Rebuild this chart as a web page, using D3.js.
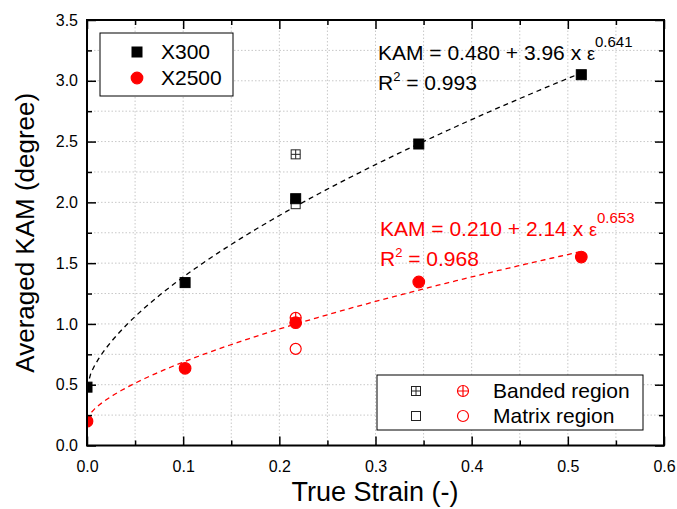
<!DOCTYPE html>
<html>
<head>
<meta charset="utf-8">
<script src="https://cdn.jsdelivr.net/npm/d3@7"></script>
<style>
  body { margin: 0; background: #fff; }
  svg text { font-family: "Liberation Sans", Arial, sans-serif; }
</style>
</head>
<body>
<div class="chart-container"></div>
<script>
// averaged KAM vs true strain
const strainX300 = [0, 0.102, 0.217, 0.345, 0.514];
const kamX300 = [0.48, 1.34, 2.03, 2.48, 3.05];
const strainX2500 = [0, 0.102, 0.217, 0.345, 0.514];
const kamX2500 = [0.20, 0.635, 1.01, 1.345, 1.55];
// banded / matrix region at 0.217 strain
const regionStrain = [0.217, 0.217];
const regionNames = ["Banded region", "Matrix region"];
const regionX300 = [2.395, 1.985];
const regionX2500 = [1.05, 0.795];
// fit parameters shown in the plot: a + b * eps^n
const fitX300 = [0.480, 3.96, 0.641];
const fitX2500 = [0.210, 2.14, 0.653];
const fitStrain = d3.range(0, 0.5141, 0.004);
const xTicks = [0, 0.1, 0.2, 0.3, 0.4, 0.5, 0.6];
const yTicks = [0, 0.5, 1.0, 1.5, 2.0, 2.5, 3.0, 3.5];

const W = 677, H = 509;
const pLeft = 87, pRight = 664, pTop = 20, pBottom = 445.5;

const svg = d3.select(".chart-container")
    .append("svg")
    .attr("width", W)
    .attr("height", H);

svg.append("clipPath").attr("id", "plot-clip")
    .append("rect")
    .attr("x", pLeft).attr("y", pTop)
    .attr("width", pRight - pLeft).attr("height", pBottom - pTop);

const x = d3.scaleLinear().domain([0, 0.6]).range([pLeft, pRight]);
const y = d3.scaleLinear().domain([0, 3.5]).range([pBottom, pTop]);

// grid at major and minor positions
const xGrid = d3.range(0.05, 0.6, 0.05);
const yGrid = d3.range(0.25, 3.5, 0.25);
svg.append("g").selectAll("line").data(xGrid).join("line")
    .attr("x1", d => x(d)).attr("x2", d => x(d))
    .attr("y1", pTop).attr("y2", pBottom)
    .attr("stroke", "#c8c8c8").attr("stroke-dasharray", "1.5,2");
svg.append("g").selectAll("line").data(yGrid).join("line")
    .attr("y1", d => y(d)).attr("y2", d => y(d))
    .attr("x1", pLeft).attr("x2", pRight)
    .attr("stroke", "#c8c8c8").attr("stroke-dasharray", "1.5,2");

// fit curves
const line = d3.line().x(d => x(d[0])).y(d => y(d[1]));
function fitLine(p, color) {
    const pts = fitStrain.map(e => [e, p[0] + p[1] * Math.pow(e, p[2])]);
    svg.append("path").datum(pts)
        .attr("d", line)
        .attr("fill", "none").attr("stroke", color)
        .attr("stroke-width", 1.3).attr("stroke-dasharray", "5,4");
}
fitLine(fitX300, "#000");
fitLine(fitX2500, "#ff0000");

// markers
function square(g, cx, cy, s, fill, stroke, cross) {
    g.append("rect").attr("x", cx - s / 2).attr("y", cy - s / 2)
        .attr("width", s).attr("height", s)
        .attr("fill", fill).attr("stroke", stroke).attr("stroke-width", 1);
    if (cross) {
        g.append("path")
            .attr("d", `M${cx - s / 2},${cy}H${cx + s / 2}M${cx},${cy - s / 2}V${cy + s / 2}`)
            .attr("stroke", stroke).attr("stroke-width", 1);
    }
}
function circle(g, cx, cy, r, fill, stroke, cross) {
    g.append("circle").attr("cx", cx).attr("cy", cy).attr("r", r)
        .attr("fill", fill).attr("stroke", stroke).attr("stroke-width", 1.2);
    if (cross) {
        g.append("path")
            .attr("d", `M${cx - r},${cy}H${cx + r}M${cx},${cy - r}V${cy + r}`)
            .attr("stroke", stroke).attr("stroke-width", 1.2);
    }
}

const marks = svg.append("g").attr("clip-path", "url(#plot-clip)");
regionStrain.forEach((s, i) => {
    square(marks, x(s), y(regionX300[i]), 9, "#fff", "#222", i === 0);
    circle(marks, x(s), y(regionX2500[i]), 5.5, "#fff", "#ff0000", i === 0);
});
strainX300.forEach((s, i) => square(marks, x(s), y(kamX300[i]), 10, "#000", "#000", false));
strainX2500.forEach((s, i) => circle(marks, x(s), y(kamX2500[i]), 5.8, "#ff0000", "#ff0000", false));

// axes, ticks pointing inward on all four sides
const minorX = d3.range(0.05, 0.6, 0.1);
const minorY = d3.range(0.25, 3.5, 0.5);
function tickAxis(axisFn, scale, major, minor, pos, fmt) {
    const g = svg.append("g").attr("transform", pos);
    g.call(axisFn(scale).tickValues(major).tickSize(-9).tickPadding(15).tickFormat(fmt));
    g.append("g").call(axisFn(scale).tickValues(minor).tickSize(-5).tickFormat(""));
    g.selectAll(".domain").remove();
    g.selectAll("line").attr("stroke", "#000").attr("stroke-width", 1.5);
    g.selectAll("text").attr("fill", "#000").style("font-size", "16px");
    return g;
}
tickAxis(d3.axisBottom, x, xTicks, minorX, `translate(0,${pBottom})`, d3.format(".1f"));
tickAxis(d3.axisTop, x, xTicks, minorX, `translate(0,${pTop})`, () => "");
tickAxis(d3.axisLeft, y, yTicks, minorY, `translate(${pLeft},0)`, d3.format(".1f"))
    .selectAll("text").attr("x", -9);
tickAxis(d3.axisRight, y, yTicks, minorY, `translate(${pRight},0)`, () => "");

svg.append("rect")
    .attr("x", pLeft).attr("y", pTop)
    .attr("width", pRight - pLeft).attr("height", pBottom - pTop)
    .attr("fill", "none").attr("stroke", "#000").attr("stroke-width", 2);

// equations
function equation(tx, ty, a, b, n, r2, color) {
    const t = svg.append("text").attr("x", tx).attr("y", ty)
        .attr("fill", color).style("font-size", "21px");
    t.append("tspan").text(`KAM = ${a} + ${b} x `);
    t.append("tspan").text("ε").style("font-size", "18px");
    t.append("tspan").attr("dy", -13).style("font-size", "15px").text(n);
    const r = svg.append("text").attr("x", tx).attr("y", ty + 30)
        .attr("fill", color).style("font-size", "21px");
    r.append("tspan").text("R");
    r.append("tspan").attr("dy", -9).style("font-size", "13px").text("2");
    r.append("tspan").attr("dy", 9).text(" = " + r2);
}
equation(378, 60, "0.480", "3.96", "0.641", "0.993", "#000");
equation(380, 236, "0.210", "2.14", "0.653", "0.968", "#ff0000");

// legend 1
const lg1 = svg.append("g");
lg1.append("rect").attr("x", 100).attr("y", 33).attr("width", 133).attr("height", 63)
    .attr("fill", "#fff").attr("stroke", "#000").attr("stroke-width", 1);
square(lg1, 137, 52, 10, "#000", "#000", false);
circle(lg1, 137, 78, 5.8, "#ff0000", "#ff0000", false);
lg1.append("text").attr("x", 161).attr("y", 59).style("font-size", "21px").text("X300");
lg1.append("text").attr("x", 161).attr("y", 85).style("font-size", "21px").text("X2500");

// legend 2
const lg2 = svg.append("g");
lg2.append("rect").attr("x", 377).attr("y", 375).attr("width", 266).attr("height", 55)
    .attr("fill", "#fff").attr("stroke", "#000").attr("stroke-width", 1);
regionNames.forEach((name, i) => {
    const cy = 391 + i * 25;
    square(lg2, 416, cy, 9, "#fff", "#222", i === 0);
    circle(lg2, 463, cy, 5.5, "#fff", "#ff0000", i === 0);
    lg2.append("text").attr("x", 493).attr("y", cy + 7).style("font-size", "21px").text(name);
});

// axis titles
svg.append("text").attr("x", 375).attr("y", 501)
    .attr("text-anchor", "middle").style("font-size", "27px").text("True Strain (-)");
svg.append("text").attr("transform", `translate(34,${(pTop + pBottom) / 2}) rotate(-90)`)
    .attr("text-anchor", "middle").style("font-size", "26px").text("Averaged KAM (degree)");
</script>
</body>
</html>
